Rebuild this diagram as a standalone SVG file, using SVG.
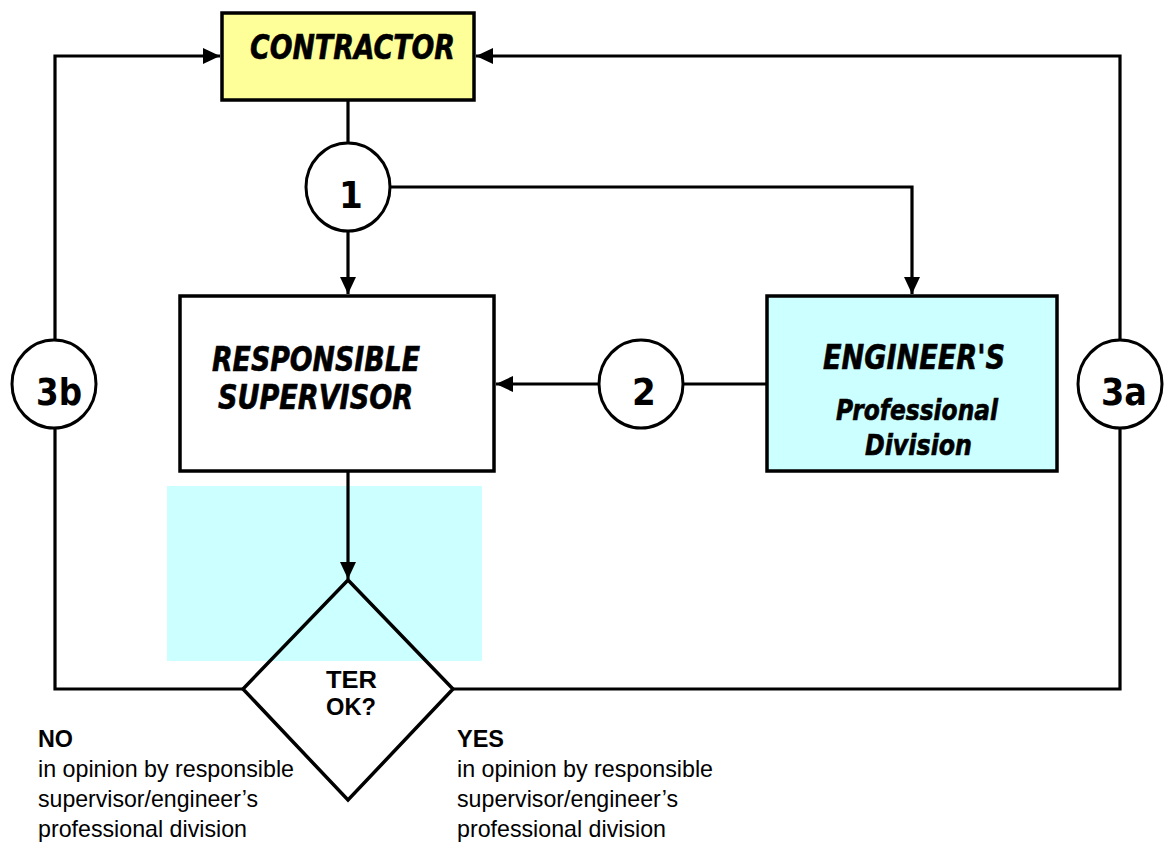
<svg xmlns="http://www.w3.org/2000/svg" width="1165" height="844" viewBox="0 0 1165 844">
<style>
.box{stroke:#000;stroke-width:3.5}
.ln{fill:none;stroke:#000;stroke-width:3.2}
.circ{fill:#fff;stroke:#000;stroke-width:3}
.t{font-family:"DejaVu Sans Condensed","DejaVu Sans",sans-serif;font-weight:bold;font-style:italic;fill:#000;stroke:#000;stroke-width:0.6}
.num{font-family:"DejaVu Sans Condensed","DejaVu Sans",sans-serif;font-weight:bold;font-size:38px;fill:#000;text-anchor:middle}
.lab{font-family:"Liberation Sans",Arial,sans-serif;font-size:24px;fill:#000}
</style>
<defs>
<marker id="ah" markerUnits="userSpaceOnUse" markerWidth="18" markerHeight="16" refX="17" refY="8" orient="auto">
<path d="M0,0 L17,8 L0,16 Z" fill="#000"/>
</marker>
</defs>
<rect x="167" y="486" width="315" height="175" fill="#ccffff"/>
<g id="connectors">
<line class="ln" x1="348" y1="100" x2="348" y2="143"/>
<line class="ln" x1="348" y1="231" x2="348" y2="294" marker-end="url(#ah)"/>
<polyline class="ln" points="390,187 912,187 912,294" marker-end="url(#ah)"/>
<line class="ln" x1="767" y1="384" x2="683" y2="384"/>
<line class="ln" x1="600" y1="384" x2="496" y2="384" marker-end="url(#ah)"/>
<line class="ln" x1="348" y1="472" x2="348" y2="579" marker-end="url(#ah)"/>
<polyline class="ln" points="243,689 55,689 55,56 220,56" marker-end="url(#ah)"/>
<polyline class="ln" points="453,689 1120,689 1120,56 476,56" marker-end="url(#ah)"/>
</g>
<g id="contractor">
<rect class="box" x="222" y="13" width="252" height="87" fill="#ffff99"/>
<text class="t" x="250" y="59" font-size="33" textLength="205" lengthAdjust="spacingAndGlyphs">CONTRACTOR</text>
</g>
<g id="supervisor">
<rect class="box" x="180" y="296" width="314" height="175" fill="#fff"/>
<text class="t" x="212" y="371" font-size="33" textLength="208" lengthAdjust="spacingAndGlyphs">RESPONSIBLE</text>
<text class="t" x="218" y="409" font-size="33" textLength="195" lengthAdjust="spacingAndGlyphs">SUPERVISOR</text>
</g>
<g id="engineer">
<rect class="box" x="767" y="296" width="290" height="175" fill="#ccffff"/>
<text class="t" x="823" y="369" font-size="33" textLength="182" lengthAdjust="spacingAndGlyphs">ENGINEER'S</text>
<text class="t" x="836" y="420" font-size="29" textLength="162" lengthAdjust="spacingAndGlyphs">Professional</text>
<text class="t" x="865" y="455" font-size="29" textLength="107" lengthAdjust="spacingAndGlyphs">Division</text>
</g>
<g id="c1">
<ellipse class="circ" cx="348" cy="187" rx="42" ry="44"/>
<text class="num" x="351" y="208">1</text>
</g>
<g id="c2">
<ellipse class="circ" cx="641" cy="384" rx="42" ry="44"/>
<text class="num" x="644" y="405">2</text>
</g>
<g id="c3b">
<ellipse class="circ" cx="54" cy="384" rx="42" ry="44"/>
<text class="num" x="59" y="405" textLength="46" lengthAdjust="spacingAndGlyphs">3b</text>
</g>
<g id="c3a">
<ellipse class="circ" cx="1120" cy="384" rx="42" ry="44"/>
<text class="num" x="1124" y="405" textLength="46" lengthAdjust="spacingAndGlyphs">3a</text>
</g>
<g id="decision">
<polygon points="348,580 453,689 348,800 243,689" fill="none" stroke="#000" stroke-width="3.5"/>
<text class="lab" x="326" y="688" font-weight="bold" font-size="26" textLength="51" lengthAdjust="spacingAndGlyphs">TER</text>
<text class="lab" x="326" y="715" font-weight="bold" font-size="26" textLength="50" lengthAdjust="spacingAndGlyphs">OK?</text>
</g>
<g id="no-label">
<text class="lab" x="38" y="747" font-weight="bold" textLength="35" lengthAdjust="spacingAndGlyphs">NO</text>
<text class="lab" x="38" y="777" textLength="256" lengthAdjust="spacingAndGlyphs">in opinion by responsible</text>
<text class="lab" x="38" y="807" textLength="220" lengthAdjust="spacingAndGlyphs">supervisor/engineer’s</text>
<text class="lab" x="38" y="837" textLength="209" lengthAdjust="spacingAndGlyphs">professional division</text>
</g>
<g id="yes-label">
<text class="lab" x="457" y="747" font-weight="bold" textLength="47" lengthAdjust="spacingAndGlyphs">YES</text>
<text class="lab" x="457" y="777" textLength="256" lengthAdjust="spacingAndGlyphs">in opinion by responsible</text>
<text class="lab" x="457" y="807" textLength="221" lengthAdjust="spacingAndGlyphs">supervisor/engineer’s</text>
<text class="lab" x="457" y="837" textLength="209" lengthAdjust="spacingAndGlyphs">professional division</text>
</g>
</svg>
